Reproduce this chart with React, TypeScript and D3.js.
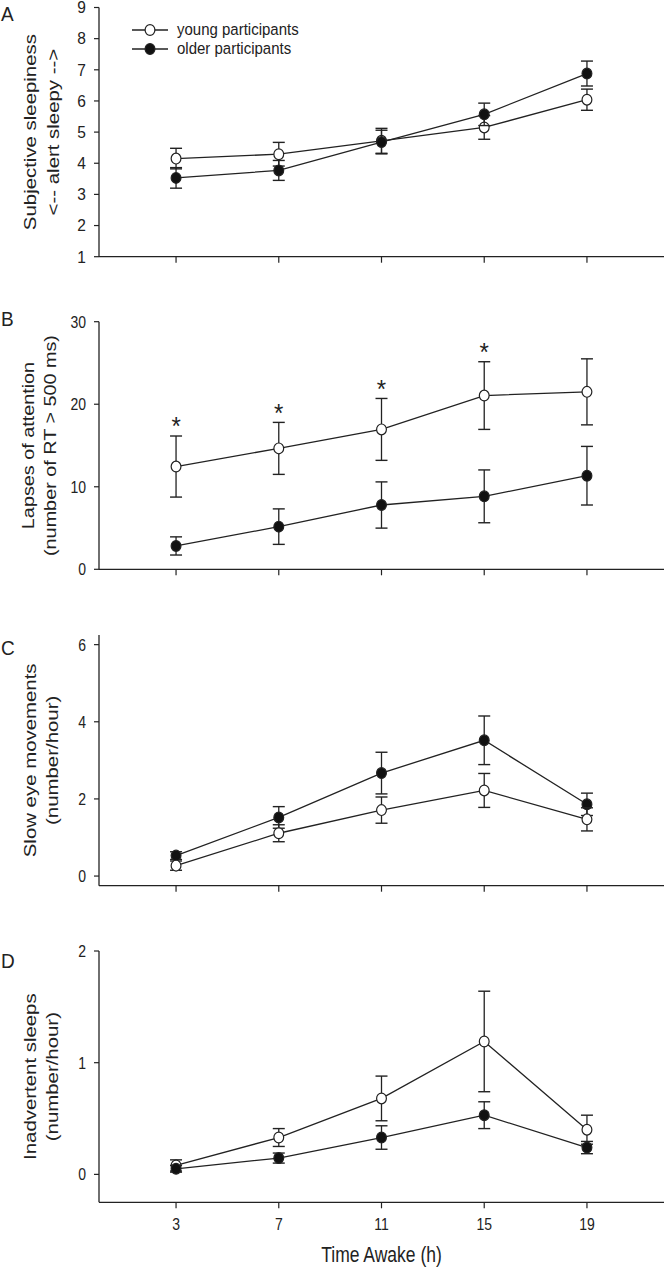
import React from "react";
import * as d3 from "d3";

// ---------- data ----------
const hours = [3, 7, 11, 15, 19];

const sleepinessYoung = [4.15, 4.29, 4.72, 5.15, 6.04];
const sleepinessYoungSE = [0.33, 0.38, 0.4, 0.38, 0.34];
const sleepinessOlder = [3.53, 3.77, 4.68, 5.57, 6.88];
const sleepinessOlderSE = [0.33, 0.32, 0.38, 0.36, 0.4];

const lapsesYoung = [12.45, 14.65, 16.95, 21.05, 21.5];
const lapsesYoungSE = [3.7, 3.15, 3.75, 4.1, 4.0];
const lapsesOlder = [2.83, 5.17, 7.79, 8.84, 11.34];
const lapsesOlderSE = [1.1, 2.15, 2.8, 3.2, 3.55];
const lapsesSignificant = [true, true, true, true, false];

const semYoung = [0.27, 1.11, 1.71, 2.22, 1.47];
const semYoungSE = [0.12, 0.22, 0.34, 0.44, 0.3];
const semOlder = [0.53, 1.52, 2.67, 3.52, 1.86];
const semOlderSE = [0.1, 0.28, 0.54, 0.63, 0.29];

const sleepsYoung = [0.08, 0.33, 0.68, 1.19, 0.4];
const sleepsYoungSE = [0.05, 0.08, 0.2, 0.45, 0.13];
const sleepsOlder = [0.05, 0.146, 0.33, 0.53, 0.24];
const sleepsOlderSE = [0.03, 0.045, 0.105, 0.12, 0.055];

const ticksA = [1, 2, 3, 4, 5, 6, 7, 8, 9];
const ticksB = [0, 10, 20, 30];
const ticksC = [0, 2, 4, 6];
const ticksD = [0, 1, 2];

const legendLabels = ["young participants", "older participants"];
const xAxisTitle = "Time Awake (h)";

// ---------- layout ----------
const FONT = "'Liberation Sans', Arial, Helvetica, sans-serif";
const INK = "#222";
const SY = 1.2;
const x = d3.scaleLinear().domain([0, 22]).range([99, 664]);

type PanelProps = {
  letter: string;
  letterY: number;
  yDomain: [number, number];
  yRange: [number, number];
  ticks: number[];
  tickFont: number;
  tickSy: number;
  titles: string[];
  titleFont: number;
  titleXs: number[];
  young: number[];
  youngSE: number[];
  older: number[];
  olderSE: number[];
  youngOnTop?: boolean;
  showXLabels?: boolean;
  stars?: boolean[];
};

function SText(props: {
  x: number;
  y: number;
  size: number;
  sy?: number;
  rotate?: boolean;
  anchor?: string;
  children: React.ReactNode;
  weight?: string;
}) {
  const sy = props.sy ?? SY;
  const t = `translate(${props.x},${props.y}) scale(1,${sy})` + (props.rotate ? " rotate(-90)" : "");
  return (
    <text
      transform={t}
      fontFamily={FONT}
      fontSize={props.size}
      fontWeight={props.weight ?? "normal"}
      fill={INK}
      textAnchor={props.anchor ?? "start"}
    >
      {props.children}
    </text>
  );
}

function Series(props: {
  y: d3.ScaleLinear<number, number>;
  vals: number[];
  se: number[];
  filled: boolean;
}) {
  const { y, vals, se, filled } = props;
  const line = d3
    .line<number>()
    .x((_, i) => x(hours[i]))
    .y((v) => y(v));
  return (
    <g>
      <path d={line(vals) || ""} fill="none" stroke={INK} strokeWidth={1.3} />
      {vals.map((v, i) => {
        const cx = x(hours[i]);
        const top = y(v + se[i]);
        const bot = y(v - se[i]);
        return (
          <g key={i}>
            <line x1={cx} x2={cx} y1={top} y2={bot} stroke={INK} strokeWidth={1.3} />
            <line x1={cx - 6} x2={cx + 6} y1={top} y2={top} stroke={INK} strokeWidth={1.4} />
            <line x1={cx - 6} x2={cx + 6} y1={bot} y2={bot} stroke={INK} strokeWidth={1.4} />
          </g>
        );
      })}
      {vals.map((v, i) => (
        <ellipse
          key={"m" + i}
          cx={x(hours[i])}
          cy={y(v)}
          rx={4.9}
          ry={5.4}
          fill={filled ? "#111" : "#fff"}
          stroke={INK}
          strokeWidth={1.2}
        />
      ))}
    </g>
  );
}

function Panel(p: PanelProps) {
  const y = d3.scaleLinear().domain(p.yDomain).range(p.yRange);
  const base = p.yRange[0];
  const topY = p.yRange[1];
  const mid = (base + topY) / 2;
  const youngEl = <Series y={y} vals={p.young} se={p.youngSE} filled={false} />;
  const olderEl = <Series y={y} vals={p.older} se={p.olderSE} filled={true} />;
  return (
    <g>
      <SText x={1} y={p.letterY} size={19} sy={1.05}>
        {p.letter}
      </SText>
      {/* axes */}
      <line x1={x(0)} x2={x(0)} y1={topY} y2={base} stroke={INK} strokeWidth={1.3} />
      <line x1={x(0)} x2={x(22)} y1={base} y2={base} stroke={INK} strokeWidth={1.3} />
      {hours.map((h) => (
        <line key={h} x1={x(h)} x2={x(h)} y1={base} y2={base + 6} stroke={INK} strokeWidth={1.2} />
      ))}
      {p.showXLabels &&
        hours.map((h) => (
          <SText key={"xl" + h} x={x(h)} y={base + 28} size={14} sy={1.22} anchor="middle">
            {String(h)}
          </SText>
        ))}
      {p.ticks.map((t) => (
        <g key={"yt" + t}>
          <line x1={x(0) - 5} x2={x(0)} y1={y(t)} y2={y(t)} stroke={INK} strokeWidth={1.2} />
          <SText
            x={86}
            y={y(t) + 0.358 * p.tickFont * p.tickSy}
            size={p.tickFont}
            sy={p.tickSy}
            anchor="end"
          >
            {String(t)}
          </SText>
        </g>
      ))}
      {p.titles.map((t, i) => (
        <SText key={"ti" + i} x={p.titleXs[i]} y={mid} size={p.titleFont} rotate anchor="middle">
          {t}
        </SText>
      ))}
      {p.youngOnTop ? (
        <>
          {olderEl}
          {youngEl}
        </>
      ) : (
        <>
          {youngEl}
          {olderEl}
        </>
      )}
      {p.stars &&
        p.stars.map((s, i) =>
          s ? (
            <SText
              key={"st" + i}
              x={x(hours[i])}
              y={y(p.young[i] + p.youngSE[i]) - 16 + 0.58 * 24 * 1.1}
              size={24}
              sy={1.1}
              anchor="middle"
            >
              *
            </SText>
          ) : null
        )}
    </g>
  );
}

export default function App() {
  return (
    <svg width={666} height={1269} style={{ display: "block", position: "absolute", left: 0, top: 0 }}>
      <rect width={666} height={1269} fill="#fff" />
      <Panel
        letter="A"
        letterY={21}
        yDomain={[1, 9]}
        yRange={[256.7, 7.5]}
        ticks={ticksA}
        tickFont={15.5}
        tickSy={1.05}
        titles={["Subjective sleepiness", "<-- alert sleepy -->"]}
        titleFont={17}
        titleXs={[36, 59]}
        young={sleepinessYoung}
        youngSE={sleepinessYoungSE}
        older={sleepinessOlder}
        olderSE={sleepinessOlderSE}
      />
      {/* legend */}
      <g>
        {legendLabels.map((lab, i) => {
          const ly = 30 + i * 19;
          return (
            <g key={lab}>
              <line x1={132} x2={168} y1={ly} y2={ly} stroke={INK} strokeWidth={1.3} />
              <ellipse cx={150} cy={ly} rx={4.9} ry={5.4} fill={i === 0 ? "#fff" : "#111"} stroke={INK} strokeWidth={1.2} />
              <SText x={177} y={ly + 5} size={15} sy={1.15}>
                {lab}
              </SText>
            </g>
          );
        })}
      </g>
      <Panel
        letter="B"
        letterY={326}
        yDomain={[0, 30]}
        yRange={[569.3, 321.7]}
        ticks={ticksB}
        tickFont={14}
        tickSy={1.22}
        titles={["Lapses of attention", "(number of RT > 500 ms)"]}
        titleFont={16.5}
        titleXs={[34, 56]}
        young={lapsesYoung}
        youngSE={lapsesYoungSE}
        older={lapsesOlder}
        olderSE={lapsesOlderSE}
        stars={lapsesSignificant}
      />
      <Panel
        letter="C"
        letterY={655}
        yDomain={[-0.25, 6.25]}
        yRange={[885.7, 635]}
        ticks={ticksC}
        tickFont={14}
        tickSy={1.22}
        titles={["Slow eye movements", "(number/hour)"]}
        titleFont={17}
        titleXs={[36, 58]}
        young={semYoung}
        youngSE={semYoungSE}
        older={semOlder}
        olderSE={semOlderSE}
        youngOnTop
      />
      <Panel
        letter="D"
        letterY={968}
        yDomain={[-0.25, 2]}
        yRange={[1202.3, 951]}
        ticks={ticksD}
        tickFont={14}
        tickSy={1.22}
        titles={["Inadvertent sleeps", "(number/hour)"]}
        titleFont={17}
        titleXs={[36, 58]}
        young={sleepsYoung}
        youngSE={sleepsYoungSE}
        older={sleepsOlder}
        olderSE={sleepsOlderSE}
        showXLabels
      />
      <SText x={x(11)} y={1262} size={17.5} sy={1.24} anchor="middle">
        {xAxisTitle}
      </SText>
    </svg>
  );
}
